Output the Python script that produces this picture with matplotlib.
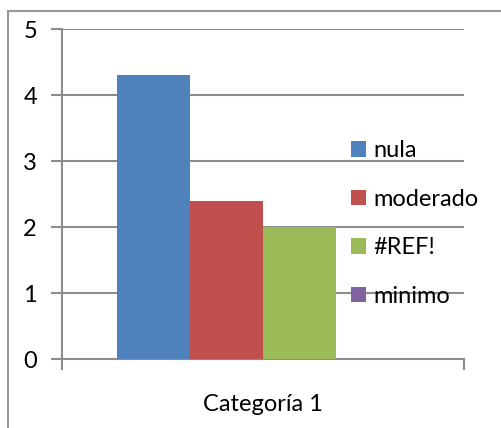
import matplotlib
matplotlib.use("Agg")
import matplotlib.pyplot as plt
from matplotlib.lines import Line2D
from matplotlib.patches import Patch

plt.rcParams['font.family'] = ['Lato', 'DejaVu Sans']

category = "Categoría 1"
series = ["nula", "moderado", "#REF!", "minimo"]
values = [4.3, 2.4, 2.0, 0.0]
colors = ["#4F81BD", "#C0504D", "#9BBB59", "#8064A2"]
y_ticks = [0, 1, 2, 3, 4, 5]

W, H = 502, 428
FS = 17
fig = plt.figure(figsize=(W / 100, H / 100), dpi=100)
fig.patch.set_facecolor("white")

# chart frame (top and left edges)
fig.add_artist(Line2D([8 / W, 1.0], [1 - 11 / H, 1 - 11 / H], color="#999999", lw=1.5))
fig.add_artist(Line2D([8 / W, 8 / W], [0, 1 - 11 / H], color="#999999", lw=1.5))

ax = fig.add_axes([62 / W, 69 / H, 402 / W, 330 / H])

gap = 1.5
n = len(series)
width = 1.0 / (n + gap)
for i, (name, v, c) in enumerate(zip(series, values, colors)):
    ax.bar(0 + (i - (n - 1) / 2) * width, v, width=width, color=c, label=name, zorder=3)

ax.set_xlim(-0.5, 0.5)
ax.set_ylim(0, 5)
ax.set_yticks(y_ticks)
ax.set_yticklabels([str(t) for t in y_ticks])
ax.yaxis.grid(True, color="#8C8C8C", lw=1.5, zorder=0)
ax.set_axisbelow(True)

ax.set_xticks([-0.5, 0.5])
ax.set_xticklabels(["", ""])
ax.set_xticks([0], minor=True)
ax.set_xticklabels([category], minor=True)
ax.tick_params(axis="x", which="major", length=8, width=1.5, color="#8C8C8C", direction="out")
ax.tick_params(axis="x", which="minor", length=0, pad=25, labelsize=FS)
ax.tick_params(axis="y", length=8, width=1.5, color="#8C8C8C", direction="out", pad=10, labelsize=FS)

for s in ["top", "right"]:
    ax.spines[s].set_visible(False)
for s in ["left", "bottom"]:
    ax.spines[s].set_color("#8C8C8C")
    ax.spines[s].set_linewidth(1.5)

handles = [Patch(facecolor=c, edgecolor="none") for c in colors]
leg = fig.legend(handles, series, loc="upper left", bbox_to_anchor=(351 / W, 1 - 140 / H),
                 frameon=False, fontsize=FS, handlelength=0.64, handleheight=0.64,
                 handletextpad=0.3, labelspacing=1.17, borderaxespad=0, borderpad=0)

fig.savefig("out.png", dpi=100, facecolor="white")
